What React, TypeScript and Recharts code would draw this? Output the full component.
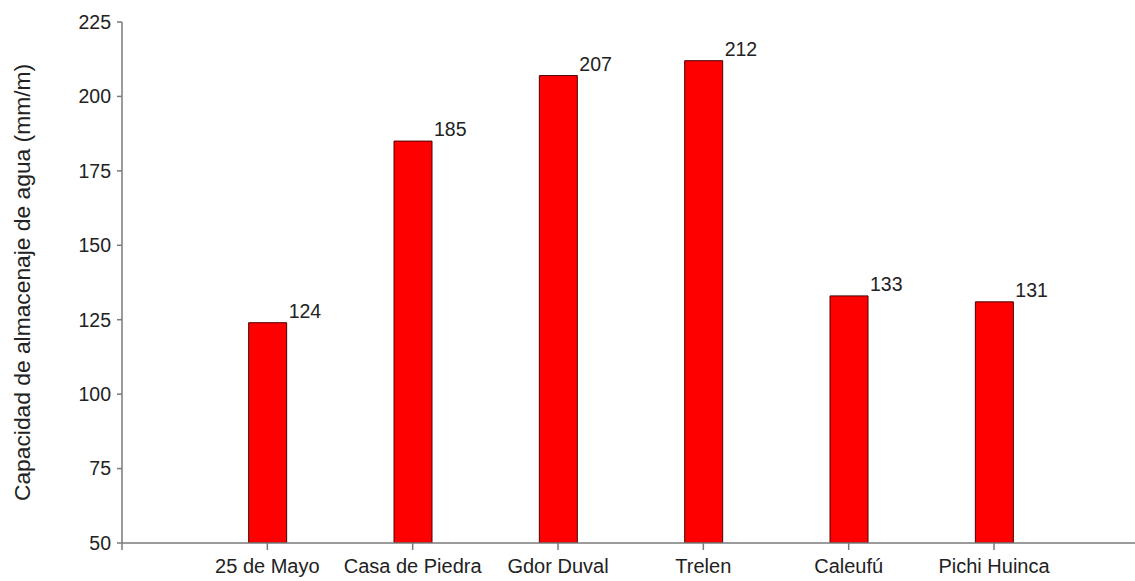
import React from 'react';
import { BarChart, Bar, XAxis, YAxis, LabelList } from 'recharts';

const categories = ['25 de Mayo', 'Casa de Piedra', 'Gdor Duval', 'Trelen', 'Caleufú', 'Pichi Huinca'];
const values = [124, 185, 207, 212, 133, 131];
const yTicks = [50, 75, 100, 125, 150, 175, 200, 225];
const xPositions = [1, 2, 3, 4, 5, 6];

const data = categories.map((name, i) => ({ name, pos: xPositions[i], value: values[i] }));

const FONT = '"Liberation Sans", Arial, sans-serif';
const AXIS = '#7a7a7a';

const xTickFormatter = (v: number) => {
  const idx = xPositions.indexOf(v);
  return idx >= 0 ? categories[idx] : '';
};

const ValueLabel = (props: any) => {
  const { x, y, width, value } = props;
  return (
    <text x={x + width + 2} y={y - 5} textAnchor="start" fontSize={19.5} fill="#222" fontFamily={FONT}>
      {value}
    </text>
  );
};

export default function App() {
  return (
    <div style={{ position: 'absolute', left: 0, top: 0, width: 1135, height: 581, background: '#fff' }}>
      <BarChart width={1135} height={581} data={data} margin={{ top: 22, right: 0, bottom: 0, left: 0 }}>
        <XAxis
          dataKey="pos"
          type="number"
          domain={[0, 6.97]}
          ticks={[0, ...xPositions]}
          tickFormatter={xTickFormatter}
          allowDataOverflow
          height={38}
          tickSize={7}
          tickMargin={9}
          stroke={AXIS}
          strokeWidth={1.5}
          tick={{ fontSize: 20, fill: '#222', fontFamily: FONT }}
          interval={0}
        />
        <YAxis
          type="number"
          domain={[50, 225]}
          ticks={yTicks}
          allowDataOverflow
          width={122}
          tickSize={5}
          tickMargin={6}
          stroke={AXIS}
          strokeWidth={1.5}
          tick={{ fontSize: 19.5, fill: '#222', fontFamily: FONT }}
          label={{
            value: 'Capacidad de almacenaje de agua (mm/m)',
            angle: -90,
            position: 'insideLeft',
            dx: 17,
            dy: 0,
            style: { fontSize: 22.8, fill: '#222', fontFamily: FONT, textAnchor: 'middle' },
          }}
        />
        <Bar dataKey="value" barSize={38} fill="#ff0000" stroke="#4a0000" strokeWidth={1} isAnimationActive={false}>
          <LabelList dataKey="value" content={ValueLabel} />
        </Bar>
      </BarChart>
    </div>
  );
}
